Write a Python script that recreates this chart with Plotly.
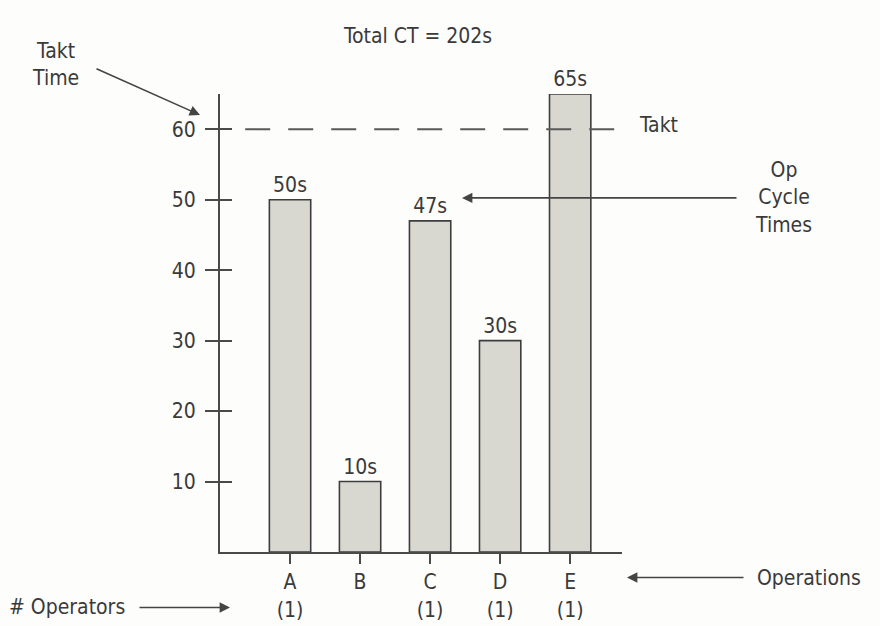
import plotly.graph_objects as go

operations = ["A", "B", "C", "D", "E"]
cycle_times = [50, 10, 47, 30, 65]
operators = [1, None, 1, 1, 1]
takt_time = 60
y_ticks = [10, 20, 30, 40, 50, 60]

FONT = "DejaVu Sans Condensed, Liberation Sans Narrow, sans-serif"
TXT = "#3a3a3a"
AX = "#4a4a4a"
FS = 21

xpos = list(range(len(operations)))
ticktext = [f"{o}<br>({n})" if n is not None else o for o, n in zip(operations, operators)]

fig = go.Figure()
fig.add_trace(go.Bar(
    x=xpos, y=cycle_times, width=0.59,
    marker=dict(color="#d9d8d0", line=dict(color="#3d3d3d", width=1.6)),
    text=[f"{v}s" for v in cycle_times], textposition="outside",
    textfont=dict(family=FONT, size=FS, color=TXT), cliponaxis=False,
    showlegend=False, hoverinfo="skip",
))
fig.add_trace(go.Scatter(
    x=[-0.64, 4.74], y=[takt_time, takt_time], mode="lines", yaxis="y2",
    line=dict(color="#5a5a5a", width=2, dash="25px,18px"),
    showlegend=False, hoverinfo="skip",
))

fig.update_layout(
    width=880, height=626, margin=dict(l=220, r=258, t=94, b=74),
    paper_bgcolor="#fdfdfb", plot_bgcolor="#fdfdfb",
    font=dict(family=FONT, size=FS, color=TXT),
    xaxis=dict(range=[-1, 4.74], tickvals=xpos, ticktext=ticktext,
               showline=True, linecolor=AX, linewidth=2, ticks="outside",
               ticklen=10, tickwidth=2, tickcolor=AX, showgrid=False,
               zeroline=False, ticklabelstandoff=0, automargin=False),
    yaxis=dict(range=[0, 65], tickvals=y_ticks, showline=True, linecolor=AX,
               linewidth=2, ticks="outside", ticklen=13, tickwidth=2,
               tickcolor=AX, showgrid=False, zeroline=False,
               ticklabelstandoff=5, automargin=False),
    yaxis2=dict(range=[0, 65], overlaying="y", anchor="x", side="left",
                tickvals=y_ticks, ticks="inside", ticklen=12, tickwidth=2,
                tickcolor=AX, showticklabels=False, showgrid=False,
                zeroline=False, showline=False, automargin=False),
)

def px_x(p):
    return (p - 220) / 402

def px_y(p):
    return (552.5 - p) / 458.5

ann = []
ann.append(dict(text=f"Total CT = {sum(cycle_times)}s", x=px_x(417), y=px_y(36)))
ann.append(dict(text="Takt<br>Time", x=px_x(55), y=px_y(64)))
ann.append(dict(text="Op<br>Cycle<br>Times", x=px_x(783), y=px_y(198)))
ann.append(dict(text="Operations", x=px_x(809), y=px_y(579)))
ann.append(dict(text="# Operators", x=px_x(67), y=px_y(608)))
for a in ann:
    fig.add_annotation(xref="paper", yref="paper", showarrow=False,
                       xanchor="center", yanchor="middle", **a)
fig.add_annotation(text="Takt", xref="paper", yref="y", x=px_x(637), y=takt_time,
                   xanchor="left", yanchor="middle", yshift=4, showarrow=False)

arrows = [
    (200, 115, -105, -47),
    (462, 198, 276, 0),
    (627, 578, 118, 0),
    (230, 608, -92, 0),
]
for hx, hy, ax, ay in arrows:
    fig.add_annotation(text="", xref="paper", yref="paper", x=px_x(hx), y=px_y(hy),
                       ax=ax, ay=ay, showarrow=True, arrowhead=2, arrowsize=1.3,
                       arrowwidth=1.6, arrowcolor="#444444")

fig.write_html("out.html")
